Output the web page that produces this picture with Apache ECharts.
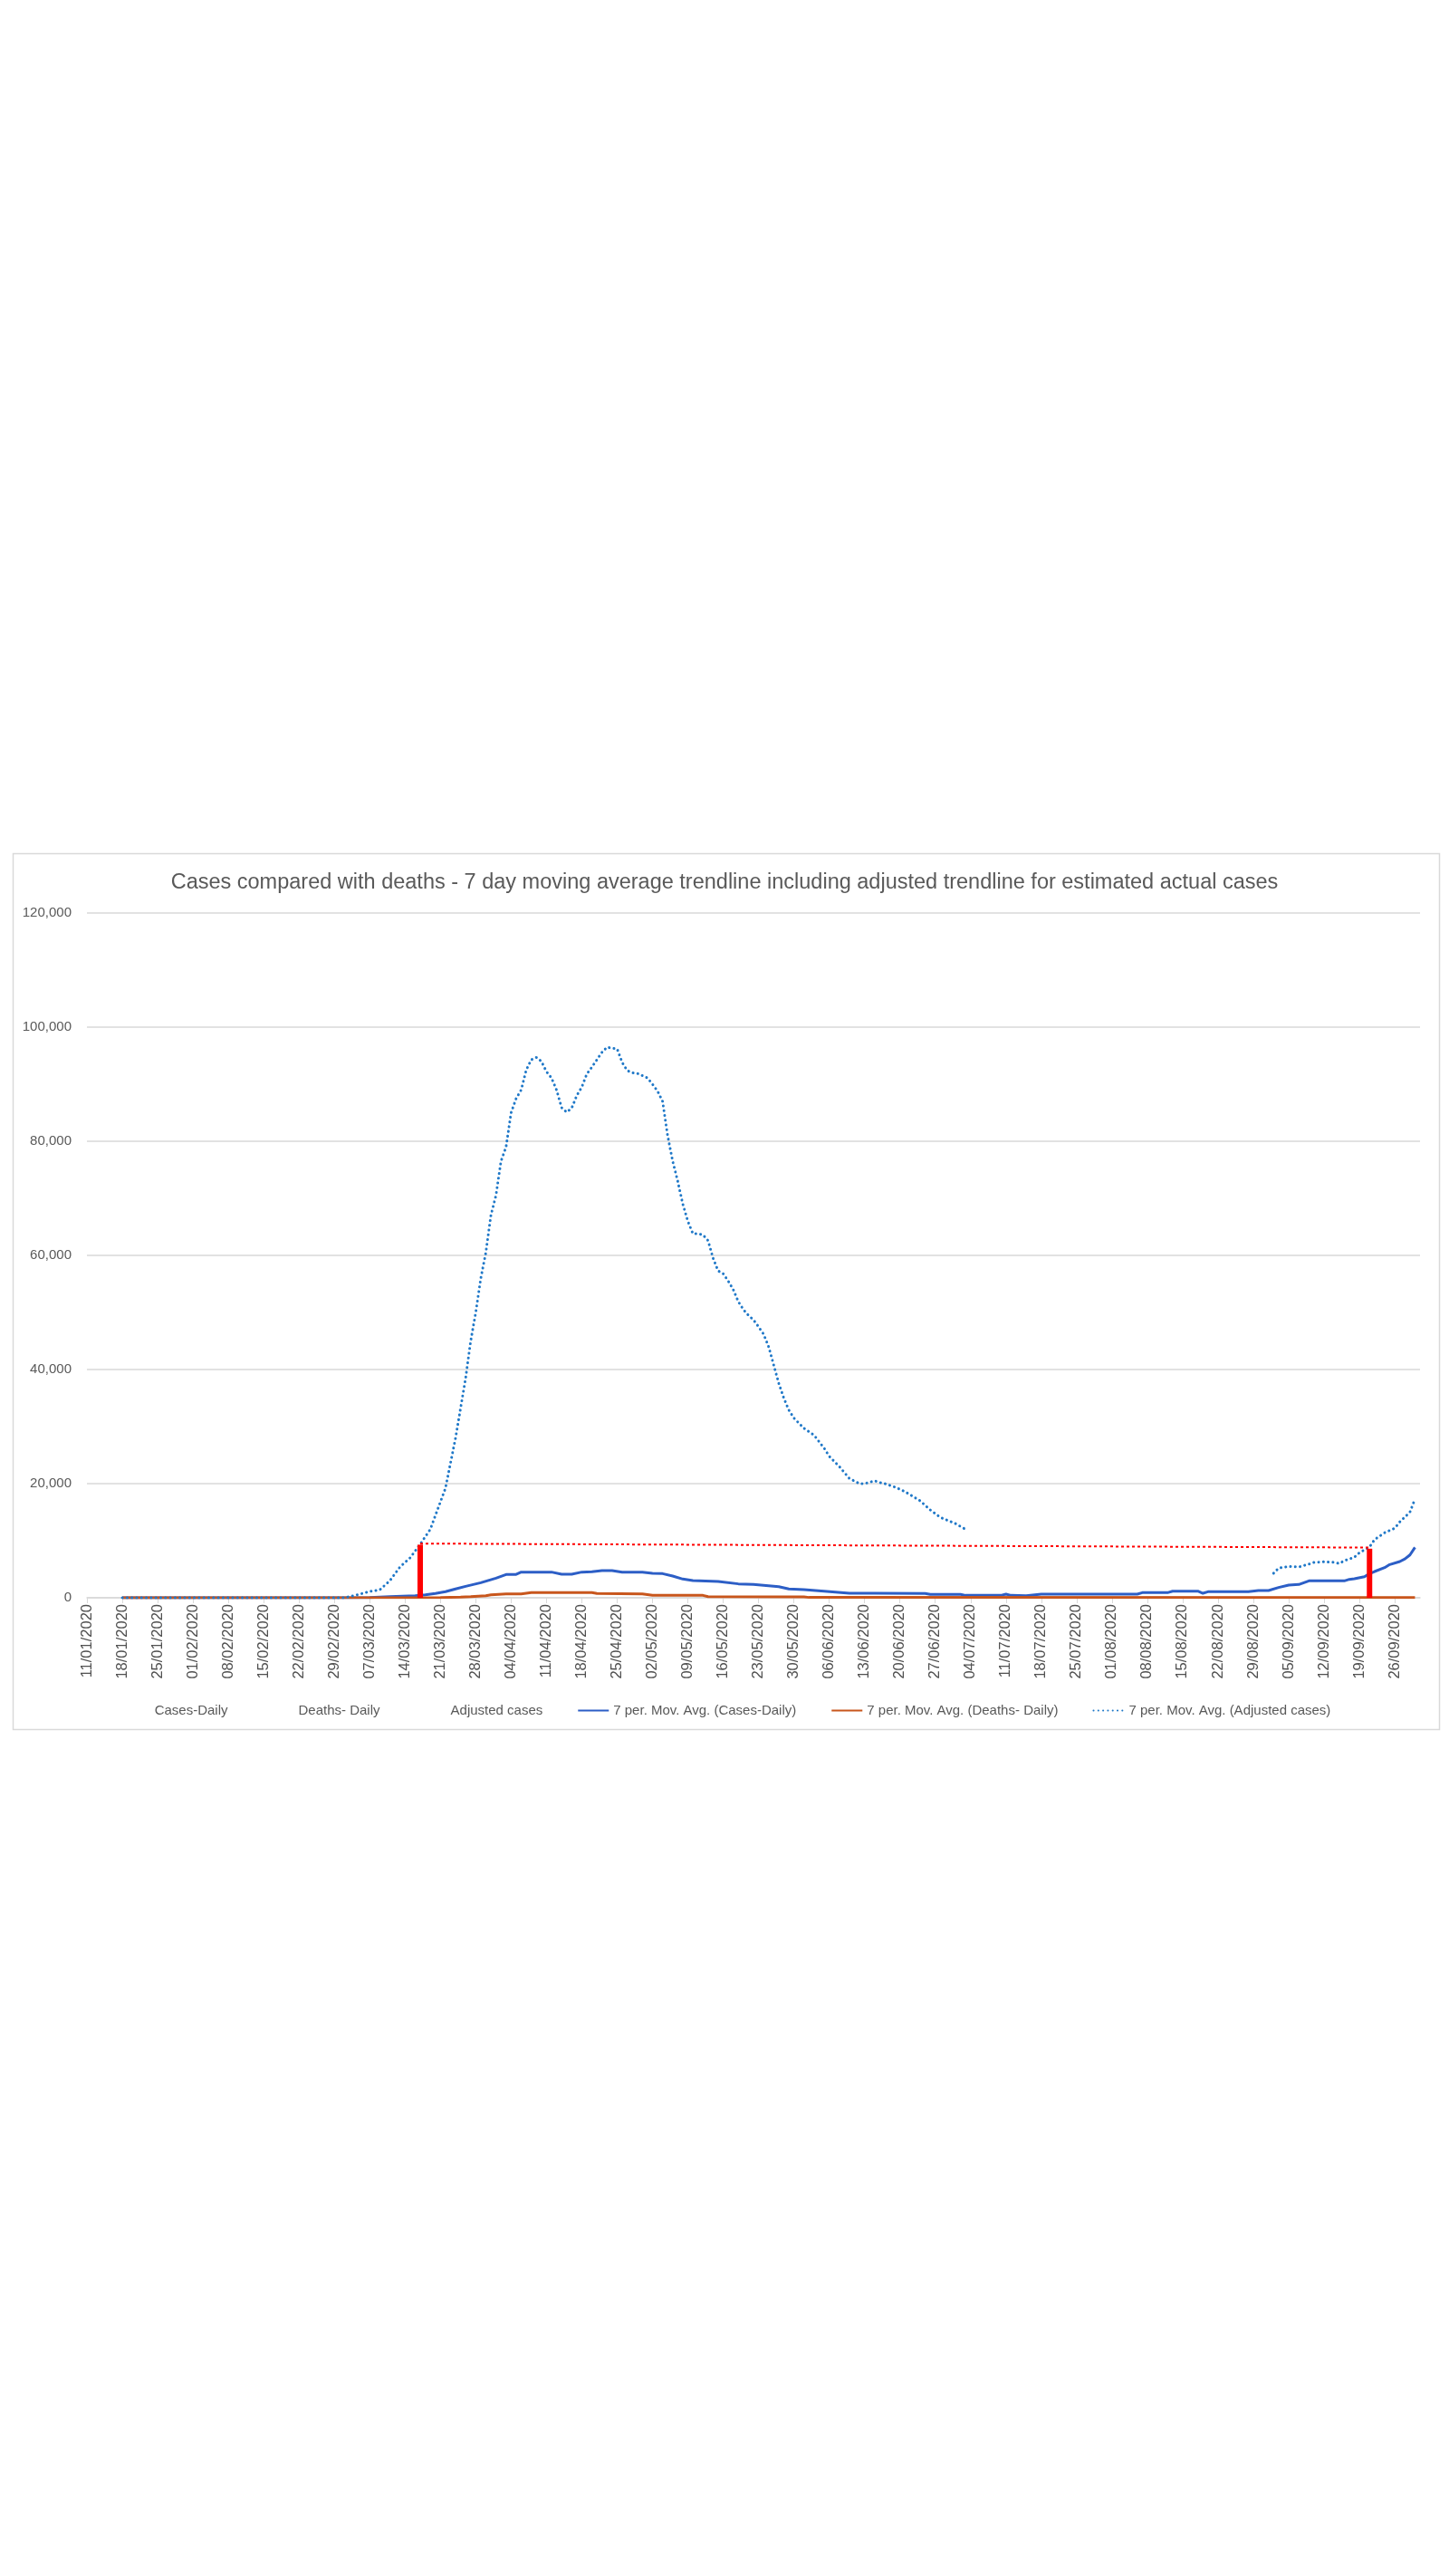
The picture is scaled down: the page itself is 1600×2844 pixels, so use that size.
<!DOCTYPE html>
<html>
<head>
<meta charset="utf-8">
<title>Cases compared with deaths</title>
<script src="https://cdn.jsdelivr.net/npm/echarts@6/dist/echarts.min.js"></script>
<style>
  html, body { margin: 0; padding: 0; background: #fff; }
  #chart { width: 1600px; height: 2844px; }
</style>
</head>
<body>
<div id="chart"></div>
<script>
// daily category axis, 11/01/2020 .. 01/10/2020
const firstDay = new Date(2020, 0, 11)
const lastDay = new Date(2020, 9, 1)
const pad = (n) => (n < 10 ? "0" + n : "" + n)
const days = []
for (let d = new Date(firstDay); d <= lastDay; d.setDate(d.getDate() + 1)) {
	days.push(pad(d.getDate()) + "/" + pad(d.getMonth() + 1) + "/" + d.getFullYear())
}

const yTicks = [0, 20000, 40000, 60000, 80000, 100000, 120000]

// 7 per. Mov. Avg. (Cases-Daily)
const casesAvg = [
	["18/01/2020", 0], ["29/02/2020", 0], ["07/03/2020", 50], ["11/03/2020", 200],
	["16/03/2020", 370], ["18/03/2020", 530], ["20/03/2020", 740], ["22/03/2020", 1060],
	["24/03/2020", 1540], ["26/03/2020", 2000], ["29/03/2020", 2640], ["01/04/2020", 3440],
	["03/04/2020", 4070], ["05/04/2020", 4100], ["06/04/2020", 4500], ["12/04/2020", 4500],
	["14/04/2020", 4130], ["16/04/2020", 4130], ["18/04/2020", 4500], ["20/04/2020", 4550],
	["22/04/2020", 4760], ["24/04/2020", 4760], ["26/04/2020", 4500], ["30/04/2020", 4500],
	["02/05/2020", 4300], ["04/05/2020", 4230], ["06/05/2020", 3810], ["08/05/2020", 3280],
	["10/05/2020", 3020], ["15/05/2020", 2860], ["19/05/2020", 2440], ["22/05/2020", 2330],
	["27/05/2020", 1950], ["29/05/2020", 1540], ["01/06/2020", 1430], ["05/06/2020", 1160],
	["10/06/2020", 790], ["15/06/2020", 790], ["25/06/2020", 740], ["26/06/2020", 580],
	["02/07/2020", 580], ["03/07/2020", 420], ["10/07/2020", 420], ["11/07/2020", 630],
	["12/07/2020", 420], ["15/07/2020", 370], ["18/07/2020", 630], ["06/08/2020", 630],
	["07/08/2020", 900], ["12/08/2020", 900], ["13/08/2020", 1160], ["18/08/2020", 1160],
	["19/08/2020", 790], ["20/08/2020", 1060], ["28/08/2020", 1060], ["30/08/2020", 1270],
	["01/09/2020", 1270], ["03/09/2020", 1800], ["05/09/2020", 2220], ["07/09/2020", 2330],
	["09/09/2020", 2960], ["16/09/2020", 2960], ["17/09/2020", 3230], ["18/09/2020", 3330],
	["20/09/2020", 3700], ["21/09/2020", 4230], ["22/09/2020", 4600], ["24/09/2020", 5290],
	["25/09/2020", 5820], ["27/09/2020", 6350], ["28/09/2020", 6800], ["29/09/2020", 7500],
	["30/09/2020", 8840],
]

// 7 per. Mov. Avg. (Deaths- Daily)
const deathsAvg = [
	["18/01/2020", 0], ["21/03/2020", 30], ["25/03/2020", 100], ["27/03/2020", 200],
	["30/03/2020", 370], ["31/03/2020", 530], ["03/04/2020", 690], ["06/04/2020", 690],
	["08/04/2020", 900], ["20/04/2020", 900], ["21/04/2020", 740], ["30/04/2020", 690],
	["02/05/2020", 420], ["12/05/2020", 420], ["13/05/2020", 200], ["01/06/2020", 160],
	["02/06/2020", 60], ["30/09/2020", 40],
]

// 7 per. Mov. Avg. (Adjusted cases) - gap between July and September
const adjustedAvg = [
	["18/01/2020", 0], ["02/03/2020", 0], ["04/03/2020", 400], ["07/03/2020", 1100],
	["09/03/2020", 1400], ["11/03/2020", 3000], ["13/03/2020", 5400], ["15/03/2020", 7000],
	["17/03/2020", 9400], ["19/03/2020", 12000], ["20/03/2020", 14400], ["22/03/2020", 19200],
	["24/03/2020", 28000], ["26/03/2020", 38500], ["27/03/2020", 45000], ["28/03/2020", 50000],
	["29/03/2020", 56000], ["30/03/2020", 60500], ["31/03/2020", 67000], ["01/04/2020", 70500],
	["02/04/2020", 76500], ["03/04/2020", 79000], ["04/04/2020", 85000], ["05/04/2020", 87500],
	["06/04/2020", 89000], ["07/04/2020", 92500], ["08/04/2020", 94300], ["09/04/2020", 94700],
	["10/04/2020", 94000], ["11/04/2020", 92200], ["12/04/2020", 91100], ["13/04/2020", 89000],
	["14/04/2020", 85900], ["15/04/2020", 85100], ["16/04/2020", 85800], ["17/04/2020", 88000],
	["18/04/2020", 89500], ["19/04/2020", 91800], ["20/04/2020", 93000], ["21/04/2020", 94300],
	["22/04/2020", 95600], ["23/04/2020", 96500], ["24/04/2020", 96300], ["25/04/2020", 96200],
	["26/04/2020", 93800], ["27/04/2020", 92400], ["28/04/2020", 92000], ["29/04/2020", 91900],
	["30/04/2020", 91500], ["01/05/2020", 91100], ["02/05/2020", 90000], ["03/05/2020", 88800],
	["04/05/2020", 87000], ["05/05/2020", 81000], ["06/05/2020", 76500], ["07/05/2020", 73000],
	["08/05/2020", 69000], ["09/05/2020", 66000], ["10/05/2020", 63800], ["11/05/2020", 63800],
	["12/05/2020", 63600], ["13/05/2020", 62600], ["14/05/2020", 59500], ["15/05/2020", 57300],
	["16/05/2020", 56800], ["17/05/2020", 55500], ["18/05/2020", 54000], ["19/05/2020", 51900],
	["20/05/2020", 50500], ["21/05/2020", 49500], ["22/05/2020", 48700], ["23/05/2020", 47500],
	["24/05/2020", 46200], ["25/05/2020", 44000], ["26/05/2020", 40800], ["27/05/2020", 37600],
	["28/05/2020", 35000], ["29/05/2020", 32900], ["30/05/2020", 31500], ["01/06/2020", 29700],
	["03/06/2020", 28500], ["05/06/2020", 26200], ["06/06/2020", 24800], ["08/06/2020", 23000],
	["10/06/2020", 20900], ["12/06/2020", 20000], ["13/06/2020", 20000], ["15/06/2020", 20500],
	["16/06/2020", 20200], ["17/06/2020", 20000], ["19/06/2020", 19400], ["21/06/2020", 18600],
	["24/06/2020", 17000], ["26/06/2020", 15400], ["28/06/2020", 14100], ["01/07/2020", 13000],
	["03/07/2020", 12000],
	["15/08/2020", "-"],
	["02/09/2020", 4300], ["03/09/2020", 5200], ["05/09/2020", 5500], ["07/09/2020", 5400],
	["09/09/2020", 5900], ["10/09/2020", 6200], ["12/09/2020", 6300], ["14/09/2020", 6200],
	["15/09/2020", 6000], ["16/09/2020", 6500], ["18/09/2020", 7100], ["19/09/2020", 7900],
	["21/09/2020", 8900], ["22/09/2020", 10200], ["24/09/2020", 11400], ["26/09/2020", 12200],
	["27/09/2020", 13300], ["29/09/2020", 15000], ["30/09/2020", 17300],
]

// red annotation: level line and the two bars
const levelLine = [["17/03/2020", 9500], ["21/09/2020", 8800]]
const levelBars = [["17/03/2020", 9300], ["21/09/2020", 8600]]

const legendNames = [
	"Cases-Daily",
	"Deaths- Daily",
	"Adjusted cases",
	"7 per. Mov. Avg. (Cases-Daily)",
	"7 per. Mov. Avg. (Deaths- Daily)",
	"7 per. Mov. Avg. (Adjusted cases)",
]

const font = '"Liberation Sans", Arial, sans-serif'
const textGrey = "#595959"
const gridGrey = "#d9d9d9"

const chart = echarts.init(document.getElementById("chart"))

const hidden = (name) => ({
	name,
	type: "line",
	data: [],
	symbol: "none",
	color: "rgba(0,0,0,0)",
	lineStyle: { width: 2, color: "rgba(0,0,0,0)" },
})

chart.setOption({
	animation: false,
	backgroundColor: "#ffffff",
	title: {
		text: "Cases compared with deaths - 7 day moving average trendline including adjusted trendline for estimated actual cases",
		left: "center",
		top: 958,
		textStyle: { fontFamily: font, fontSize: 23.5, fontWeight: "normal", color: textGrey },
	},
	graphic: [
		{
			type: "rect",
			silent: true,
			shape: { x: 14.5, y: 942.5, width: 1575, height: 967 },
			style: { fill: "none", stroke: gridGrey, lineWidth: 1.5 },
		},
	],
	legend: {
		data: legendNames,
		left: "center",
		top: 1876,
		itemWidth: 34,
		itemHeight: 14,
		itemGap: 38,
		itemStyle: { opacity: 0 },
		textStyle: { fontFamily: font, fontSize: 15, color: textGrey },
	},
	grid: { left: 96, right: 32, top: 1008, bottom: 1080 },
	xAxis: {
		type: "category",
		data: days,
		boundaryGap: false,
		axisLine: { lineStyle: { color: gridGrey, width: 1.5 } },
		axisTick: { interval: 6, length: 6, lineStyle: { color: gridGrey } },
		axisLabel: {
			interval: 6,
			rotate: 90,
			margin: 7,
			fontFamily: font,
			fontSize: 16.5,
			color: "#505050",
		},
	},
	yAxis: {
		type: "value",
		min: yTicks[0],
		max: yTicks[yTicks.length - 1],
		interval: yTicks[1] - yTicks[0],
		axisLine: { show: false },
		axisTick: { show: false },
		splitLine: { lineStyle: { color: gridGrey, width: 1.5 } },
		axisLabel: {
			margin: 17,
			fontFamily: font,
			fontSize: 15,
			color: textGrey,
			formatter: (v) => v.toLocaleString("en-US"),
		},
	},
	series: [
		hidden(legendNames[0]),
		hidden(legendNames[1]),
		hidden(legendNames[2]),
		{
			name: legendNames[3],
			type: "line",
			data: casesAvg,
			symbol: "none",
			color: "#2c5ec6",
			lineStyle: { width: 3, color: "#2c5ec6" },
			z: 3,
		},
		{
			name: legendNames[4],
			type: "line",
			data: deathsAvg,
			symbol: "none",
			color: "#c8561c",
			lineStyle: { width: 3, color: "#c8561c" },
			z: 4,
		},
		{
			name: legendNames[5],
			type: "line",
			data: adjustedAvg,
			symbol: "none",
			connectNulls: false,
			color: "#1f78c8",
			lineStyle: { width: 3, color: "#1f78c8", type: [0.1, 5.2], cap: "round" },
			z: 5,
		},
		{
			name: "level",
			type: "line",
			data: levelLine,
			symbol: "none",
			lineStyle: { width: 2, color: "#ff0000", type: [3, 3] },
			z: 6,
		},
		{
			name: "marker",
			type: "bar",
			data: levelBars,
			barWidth: 6,
			itemStyle: { color: "#ff0000" },
			z: 6,
		},
	],
})
</script>
</body>
</html>
